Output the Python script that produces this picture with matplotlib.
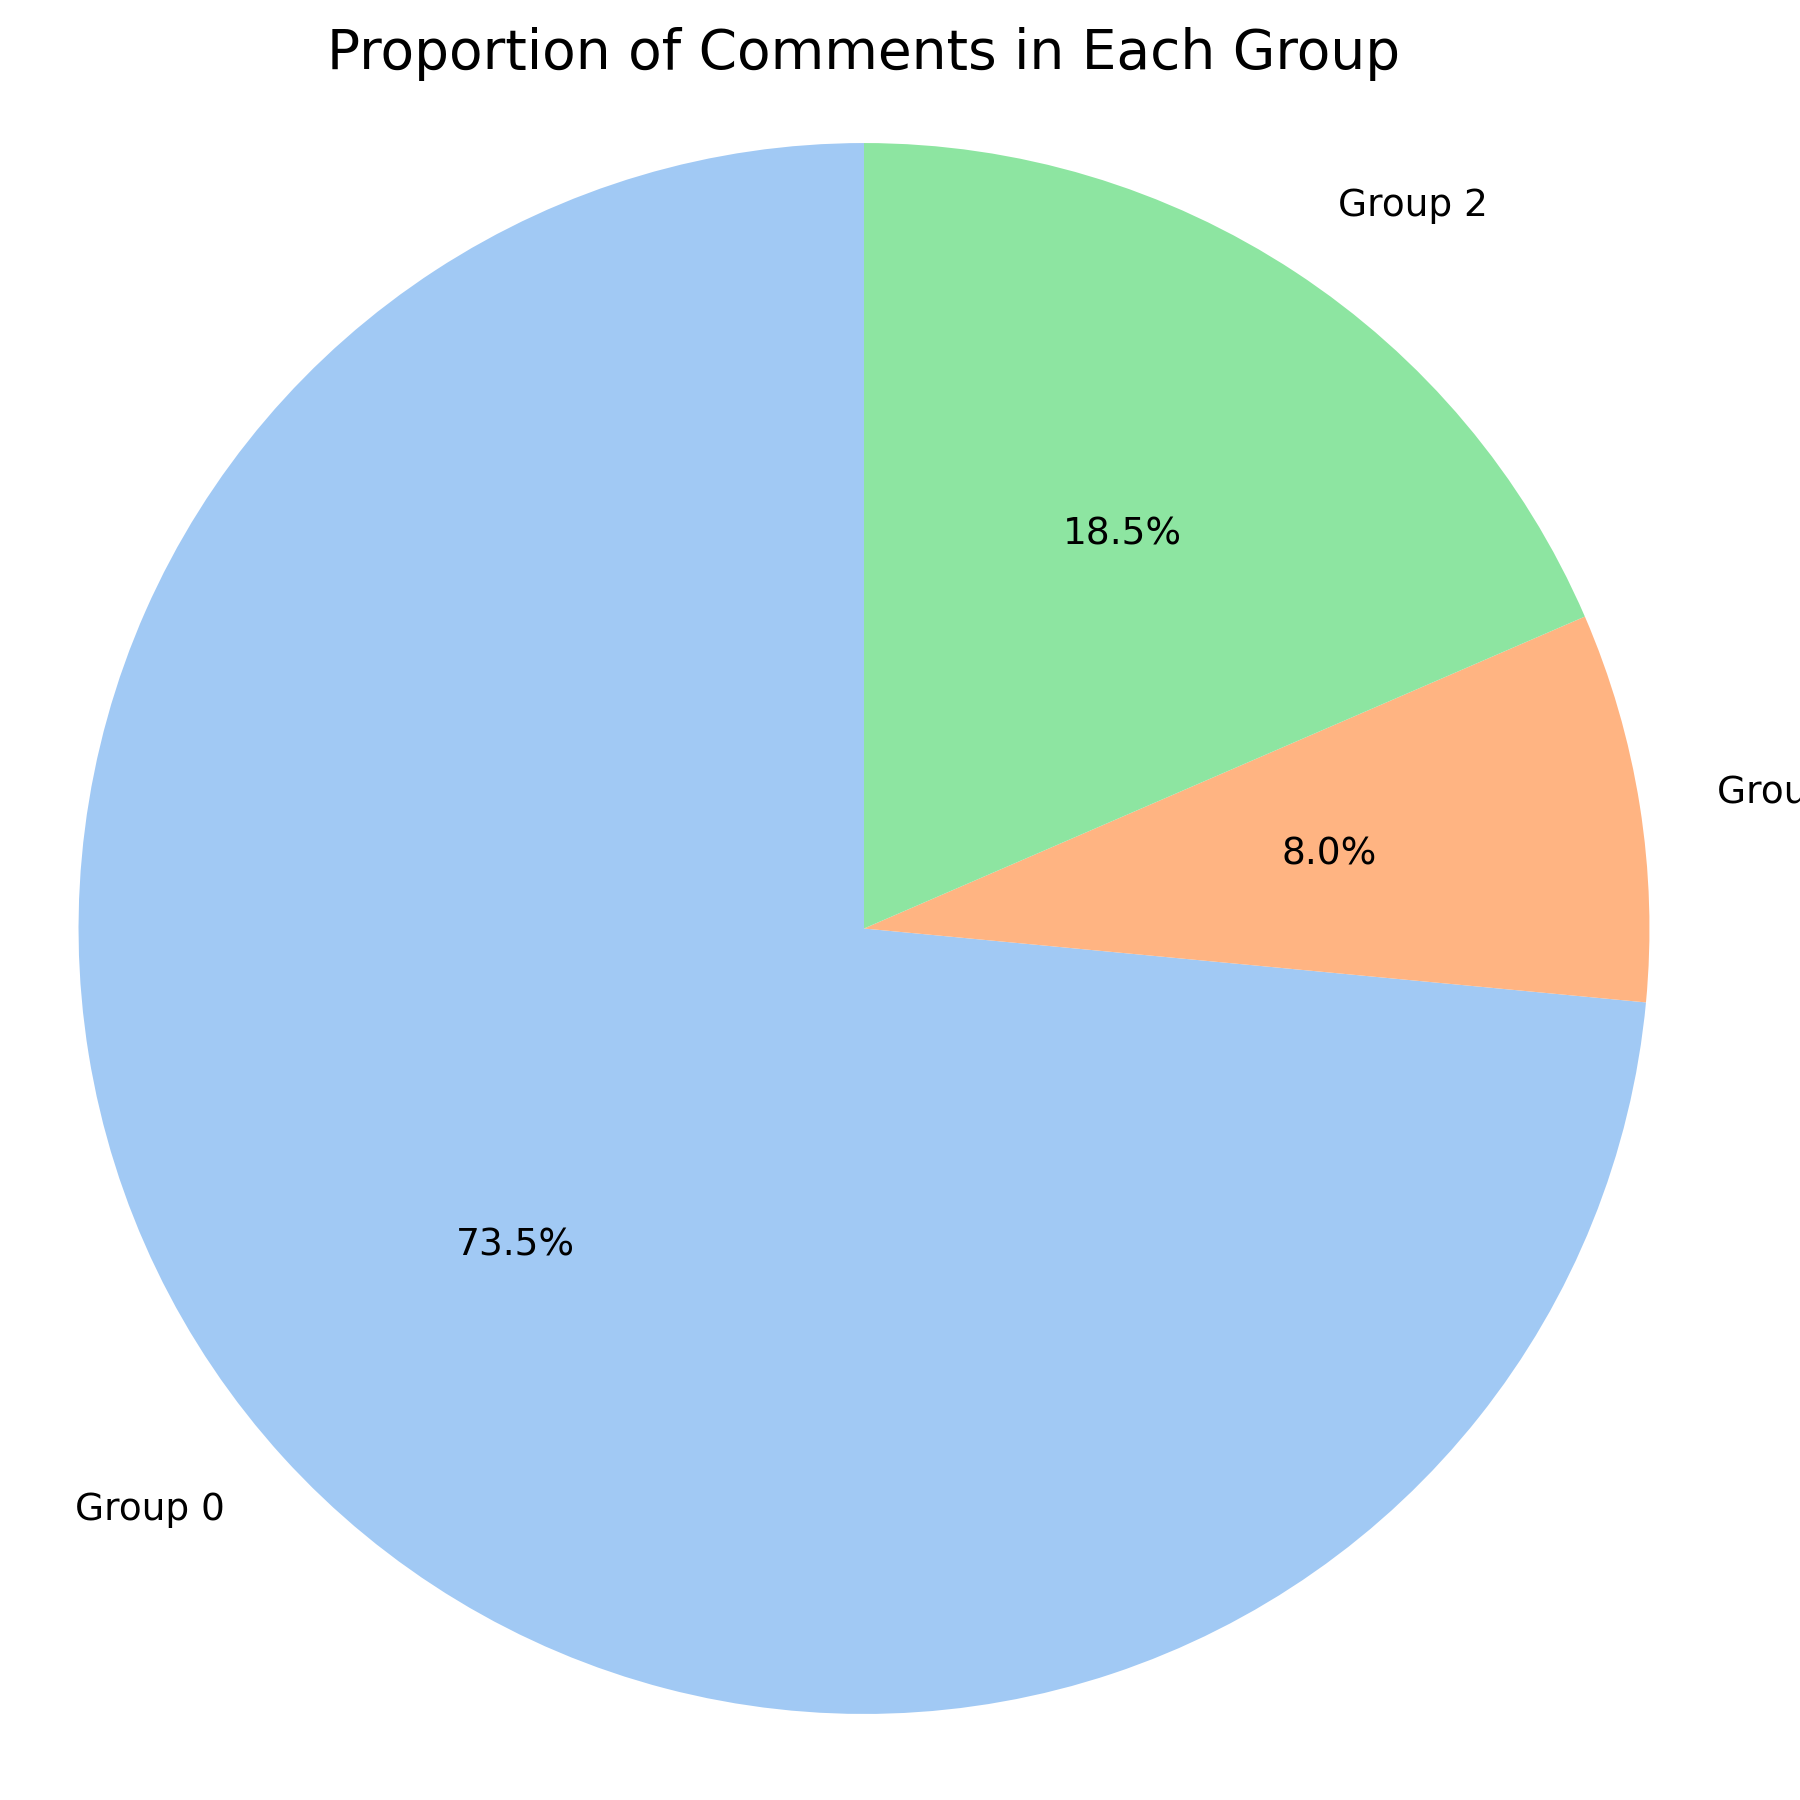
import matplotlib
matplotlib.use("Agg")
import matplotlib.pyplot as plt

labels = ["Group 0", "Group 1", "Group 2"]
values = [73.5, 8.0, 18.5]
colors = ["#a1c9f4", "#ffb482", "#8de5a1"]

fig, ax = plt.subplots(figsize=(10, 10), dpi=180)
ax.pie(values, labels=labels, colors=colors, autopct="%1.1f%%", startangle=90,
       textprops={"fontsize": 15})
ax.set_title("Proportion of Comments in Each Group", fontsize=22)
ax.axis("equal")
fig.tight_layout()
fig.subplots_adjust(left=0.0, right=0.96)
fig.savefig("out.png")
